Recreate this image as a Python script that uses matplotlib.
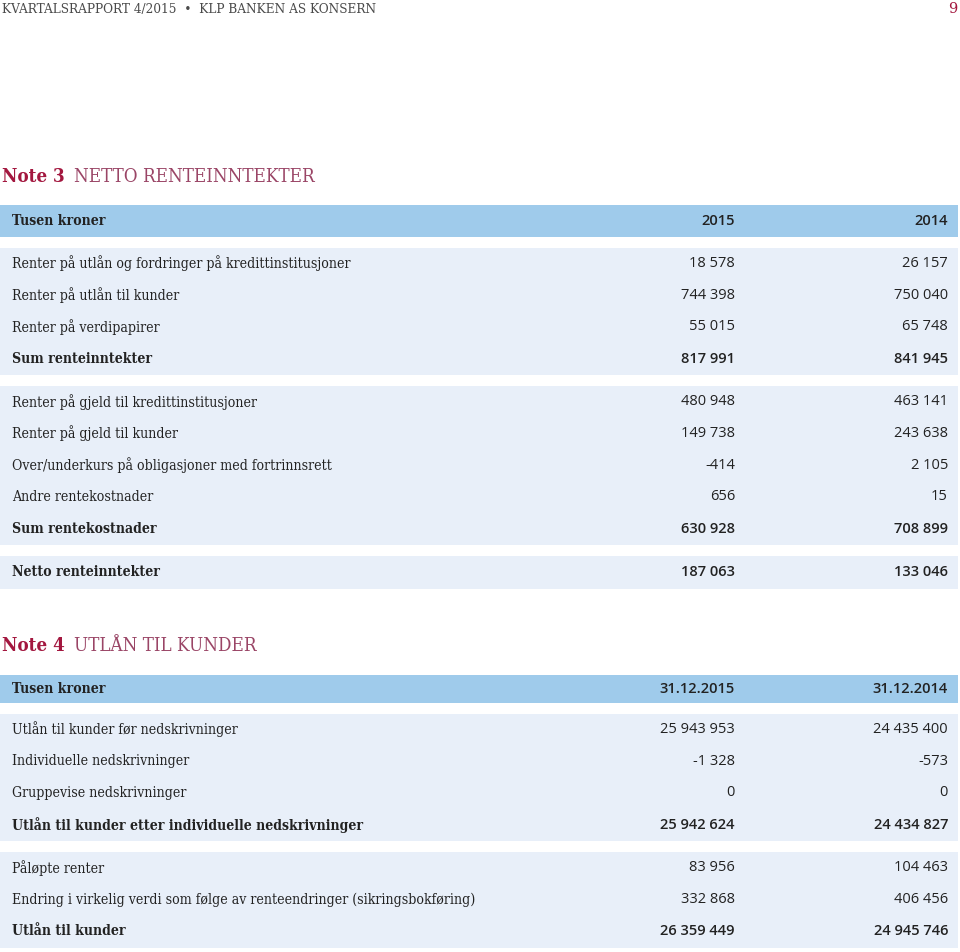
import matplotlib.pyplot as plt
from matplotlib.patches import Rectangle

# Note 3 data
note3_years = ["2015", "2014"]
note3_labels = [
    ["Renter på utlån og fordringer på kredittinstitusjoner",
     "Renter på utlån til kunder",
     "Renter på verdipapirer",
     "Sum renteinntekter"],
    ["Renter på gjeld til kredittinstitusjoner",
     "Renter på gjeld til kunder",
     "Over/underkurs på obligasjoner med fortrinnsrett",
     "Andre rentekostnader",
     "Sum rentekostnader"],
    ["Netto renteinntekter"],
]
note3_2015 = [["18 578", "744 398", "55 015", "817 991"],
              ["480 948", "149 738", "-414", "656", "630 928"],
              ["187 063"]]
note3_2014 = [["26 157", "750 040", "65 748", "841 945"],
              ["463 141", "243 638", "2 105", "15", "708 899"],
              ["133 046"]]
note3_bold = ["Sum renteinntekter", "Sum rentekostnader", "Netto renteinntekter"]

# Note 4 data
note4_years = ["31.12.2015", "31.12.2014"]
note4_labels = [
    ["Utlån til kunder før nedskrivninger",
     "Individuelle nedskrivninger",
     "Gruppevise nedskrivninger",
     "Utlån til kunder etter individuelle nedskrivninger"],
    ["Påløpte renter",
     "Endring i virkelig verdi som følge av renteendringer (sikringsbokføring)",
     "Utlån til kunder"],
]
note4_2015 = [["25 943 953", "-1 328", "0", "25 942 624"],
              ["83 956", "332 868", "26 359 449"]]
note4_2014 = [["24 435 400", "-573", "0", "24 434 827"],
              ["104 463", "406 456", "24 945 746"]]
note4_bold = ["Utlån til kunder etter individuelle nedskrivninger", "Utlån til kunder"]

HEAD_BG = "#9fcbeb"
BODY_BG = "#e8eff9"
TEXT = "#222222"
RED = "#a3173f"
MAUVE = "#9a4566"
LABEL_FONT = "DejaVu Serif"
NUM_FONT = "Open Sans"
FS = 10.1
ROW_H = 31.7
GAP = 10.5
COL1 = 735
COL2 = 948

fig = plt.figure(figsize=(9.6, 9.52), dpi=100)
ax = fig.add_axes([0, 0, 1, 1])
ax.set_xlim(0, 960)
ax.set_ylim(952, 0)
ax.axis("off")

ax.text(2, 9, "KVARTALSRAPPORT 4/2015  •  KLP BANKEN AS KONSERN", fontsize=9.7,
        family=LABEL_FONT, fontstretch="condensed", color="#4a4a4a", va="center", ha="left")
ax.text(957, 9, "9", fontsize=10.5, family=LABEL_FONT, color=RED, va="center", ha="right")


def draw_note(y_title, number, title, years, labels, v1, v2, bold, y_head, head_h):
    ax.text(2, y_title, "Note " + number, fontsize=13.5, family=LABEL_FONT,
            color=RED, va="center", ha="left", fontweight="bold", fontstretch="condensed")
    ax.text(74, y_title, title, fontsize=13.5, family=LABEL_FONT, color=MAUVE,
            fontstretch="condensed", va="center", ha="left", fontweight="light")
    ax.add_patch(Rectangle((0, y_head), 958, head_h, color=HEAD_BG, lw=0))
    yc = y_head + head_h / 2
    ax.text(12, yc, "Tusen kroner", fontsize=FS, family=LABEL_FONT,
            fontstretch="condensed", fontweight="bold", color=TEXT, va="center")
    for x, yr in zip([COL1, COL2], years):
        ax.text(x, yc, yr, fontsize=10.5, family=NUM_FONT, fontweight="semibold",
                color=TEXT, va="center", ha="right")
    y = y_head + head_h + GAP
    for blk, a, b in zip(labels, v1, v2):
        h = len(blk) * ROW_H + 1
        ax.add_patch(Rectangle((0, y), 958, h, color=BODY_BG, lw=0))
        for i, (lab, s1, s2) in enumerate(zip(blk, a, b)):
            ry = y + 16 + i * ROW_H
            w = "bold" if lab in bold else "normal"
            ax.text(12, ry, lab, fontsize=FS, family=LABEL_FONT, fontweight=w,
                    fontstretch="condensed", color=TEXT, va="center")
            nw = "semibold" if lab in bold else "normal"
            ax.text(COL1, ry, s1, fontsize=10.5, family=NUM_FONT, fontweight=nw,
                    color=TEXT, va="center", ha="right")
            ax.text(COL2, ry, s2, fontsize=10.5, family=NUM_FONT, fontweight=nw,
                    color=TEXT, va="center", ha="right")
        y += h + GAP


draw_note(177, "3", "NETTO RENTEINNTEKTER", note3_years, note3_labels,
          note3_2015, note3_2014, note3_bold, 205, 32)
draw_note(646, "4", "UTLÅN TIL KUNDER", note4_years, note4_labels,
          note4_2015, note4_2014, note4_bold, 675, 28)

fig.savefig("out.png", dpi=100)
